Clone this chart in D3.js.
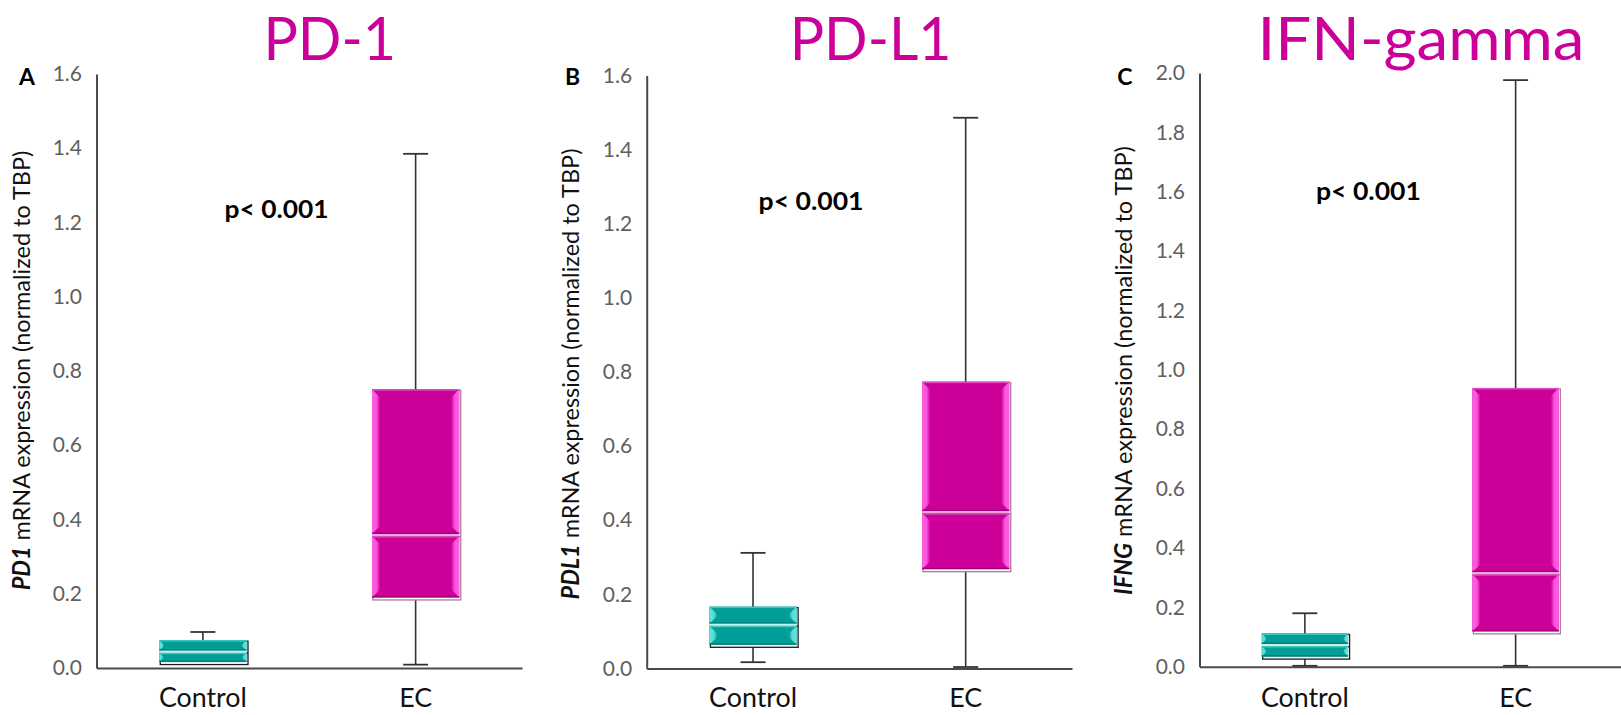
<!DOCTYPE html>
<html>
<head>
<meta charset="utf-8">
<script src="https://cdn.jsdelivr.net/npm/d3@7"></script>
<style>
  body { margin: 0; background: #fff; }
  svg { display: block; }
</style>
</head>
<body>
<svg id="chart" width="1621" height="715"></svg>
<script>
// ---- data -------------------------------------------------------------
const panelLetters = ["A", "B", "C"];
const panelTitles = ["PD-1", "PD-L1", "IFN-gamma"];
const geneNames = ["PD1", "PDL1", "IFNG"];
const categories = ["Control", "EC"];
const yMaxima = [1.6, 1.6, 2.0];
const yTickStep = 0.2;
// five-number summaries per panel: [min, q1, median, q3, max]
const controlStats = [
  [0.012, 0.016, 0.044, 0.075, 0.097],
  [0.017, 0.064, 0.118, 0.167, 0.312],
  [0.003, 0.034, 0.073, 0.112, 0.180]
];
const ecStats = [
  [0.009, 0.190, 0.358, 0.751, 1.385],
  [0.004, 0.268, 0.422, 0.774, 1.486],
  [0.003, 0.119, 0.315, 0.939, 1.976]
];
const pValueLabels = ["p< 0.001", "p< 0.001", "p< 0.001"];

// ---- layout -----------------------------------------------------------
const frames = [
  { left: 96.5,   right: 522,  bottom: 668,   top: 74,   letterX: 27,     yTitleX: 23,     yTitleY: 370.5, yTitleLen: 440,
    titleX: 329.7,  titleW: 132.6, pX: 276.5,  pY: 218,   pW: 104 },
  { left: 646.7,  right: 1072, bottom: 668.5, top: 75.5, letterX: 572.7,  yTitleX: 572,    yTitleY: 374,   yTitleLen: 451,
    titleX: 870.6,  titleW: 162,   pX: 811,    pY: 209.5, pW: 105 },
  { left: 1199.5, right: 1621, bottom: 666.7, top: 73,   letterX: 1124.8, yTitleX: 1124.5, yTitleY: 370.5, yTitleLen: 449,
    titleX: 1421,   titleW: 327,   pX: 1368.4, pY: 200,   pW: 105 }
];
const xLabelBaseline = 707.5;

const palettes = {
  Control: { key: "teal", base: "#009e96", light: "#63e3dc", topEdge: "#3fc7c0", bottomEdge: "#00807a",
             median: "#c4f1ee", outline: "#1a1a1a" },
  EC:      { key: "mag",  base: "#cc0099", light: "#ff5fe2", topEdge: "#e04cc0", bottomEdge: "#a5007c",
             median: "#e9a9d9", outline: "#b07aa0" }
};

const FONT = "Lato, 'Open Sans', 'DejaVu Sans', sans-serif";
const svg = d3.select("#chart");
const defs = svg.append("defs");

// bevel gradients for each palette
Object.values(palettes).forEach(p => {
  const l = defs.append("linearGradient").attr("id", p.key + "-left")
    .attr("x1", 0).attr("x2", 1).attr("y1", 0).attr("y2", 0);
  l.append("stop").attr("offset", 0).attr("stop-color", p.light);
  l.append("stop").attr("offset", 0.55).attr("stop-color", p.light).attr("stop-opacity", 0.9);
  l.append("stop").attr("offset", 1).attr("stop-color", p.base);
  const r = defs.append("linearGradient").attr("id", p.key + "-right")
    .attr("x1", 0).attr("x2", 1).attr("y1", 0).attr("y2", 0);
  r.append("stop").attr("offset", 0).attr("stop-color", p.base);
  r.append("stop").attr("offset", 0.45).attr("stop-color", p.light).attr("stop-opacity", 0.9);
  r.append("stop").attr("offset", 1).attr("stop-color", p.light);
});

// one bevelled block (upper or lower half of a box)
function bevelBlock(g, x0, x1, yTop, yBot, p) {
  const h = yBot - yTop;
  if (h <= 0) return;
  const b = Math.min(8, h / 2);
  g.append("rect").attr("x", x0).attr("y", yTop).attr("width", x1 - x0).attr("height", h)
    .attr("fill", p.base);
  g.append("polygon")
    .attr("points", [[x0, yTop], [x0 + b, yTop + b], [x0 + b, yBot - b], [x0, yBot]].join(" "))
    .attr("fill", `url(#${p.key}-left)`);
  g.append("polygon")
    .attr("points", [[x1, yTop], [x1 - b, yTop + b], [x1 - b, yBot - b], [x1, yBot]].join(" "))
    .attr("fill", `url(#${p.key}-right)`);
  g.append("rect").attr("x", x0).attr("y", yTop).attr("width", x1 - x0).attr("height", Math.min(1.5, h / 3))
    .attr("fill", p.topEdge);
  g.append("rect").attr("x", x0).attr("y", yBot - Math.min(1.5, h / 3)).attr("width", x1 - x0)
    .attr("height", Math.min(1.5, h / 3)).attr("fill", p.bottomEdge);
}

// stretch a text element horizontally so its width equals `target`
function widthScale(sel, target) {
  const w = sel.node().getBBox().width;
  return w > 0 ? target / w : 1;
}

frames.forEach((f, i) => {
  const g = svg.append("g");

  const y = d3.scaleLinear().domain([0, yMaxima[i]]).range([f.bottom, f.top]);
  const x = d3.scaleBand().domain(categories).range([f.left, f.right]).paddingInner(0).paddingOuter(0);
  const boxW = x.bandwidth() * 0.41;
  const capW = 25;

  // y axis
  const ticks = d3.range(0, yMaxima[i] + 1e-9, yTickStep);
  const yAxis = g.append("g").attr("transform", `translate(${f.left},0)`)
    .call(d3.axisLeft(y).tickValues(ticks).tickFormat(d3.format(".1f")).tickSize(0).tickPadding(14.5));
  yAxis.select(".domain").attr("stroke", "#4a4a4a").attr("stroke-width", 2);
  yAxis.selectAll("text").attr("font-family", FONT).attr("font-size", 21).attr("fill", "#5f5f5f");

  // x axis (category labels share one baseline across panels)
  const xAxis = g.append("g").attr("transform", `translate(0,${f.bottom})`)
    .call(d3.axisBottom(x).tickSize(0).tickSizeOuter(0).tickPadding(0));
  xAxis.select(".domain").attr("stroke", "#4a4a4a").attr("stroke-width", 2);
  xAxis.selectAll("text")
    .attr("y", xLabelBaseline - f.bottom).attr("dy", null)
    .attr("font-family", FONT).attr("font-size", 27).attr("fill", "#111");
  xAxis.selectAll("text").each(function () {
    const t = d3.select(this);
    const s = widthScale(t, t.text() === "Control" ? 88 : 33);
    t.attr("transform", `scale(${s},1)`);
  });

  // boxes
  const stats = [controlStats[i], ecStats[i]];
  categories.forEach((cat, ci) => {
    const [mn, q1, med, q3, mx] = stats[ci];
    const p = palettes[cat];
    const cx = x(cat) + x.bandwidth() / 2;
    const x0 = cx - boxW / 2, x1 = cx + boxW / 2;
    const bg = g.append("g");

    // whisker and caps
    bg.append("line").attr("x1", cx).attr("x2", cx).attr("y1", y(mn)).attr("y2", y(mx))
      .attr("stroke", "#333").attr("stroke-width", 1.6);
    [mn, mx].forEach(v => {
      bg.append("line").attr("x1", cx - capW / 2).attr("x2", cx + capW / 2).attr("y1", y(v)).attr("y2", y(v))
        .attr("stroke", "#333").attr("stroke-width", 1.8);
    });

    // outline frame with median, sitting slightly below-right of the filled box
    bg.append("rect").attr("x", x0 + 1).attr("y", y(q3) + 1)
      .attr("width", boxW + 0.5).attr("height", y(q1) - y(q3) + 1.5)
      .attr("fill", "#fff").attr("stroke", p.outline).attr("stroke-width", 1.3);
    bg.append("line").attr("x1", x0 + 1).attr("x2", x1 + 1.5).attr("y1", y(med) + 1.5).attr("y2", y(med) + 1.5)
      .attr("stroke", p.outline).attr("stroke-width", 1.3);

    // bevelled halves
    bevelBlock(bg, x0, x1, y(q3), y(med) - 1, p);
    bevelBlock(bg, x0, x1, y(med) + 1, y(q1), p);
    bg.append("line").attr("x1", x0).attr("x2", x1).attr("y1", y(med)).attr("y2", y(med))
      .attr("stroke", p.median).attr("stroke-width", 2);
  });

  // panel letter
  g.append("text").attr("x", f.letterX).attr("y", 76.5).attr("dy", "0.36em")
    .attr("text-anchor", "middle").attr("font-family", FONT).attr("font-weight", 700)
    .attr("font-size", 23).attr("fill", "#000").text(panelLetters[i]);

  // y-axis title (gene name italic bold)
  const yt = g.append("text").attr("text-anchor", "middle").attr("font-family", FONT)
    .attr("font-size", 24).attr("fill", "#111");
  yt.append("tspan").attr("font-style", "italic").attr("font-weight", 700).text(geneNames[i]);
  yt.append("tspan").text(" mRNA expression (normalized to TBP)");
  const ys = widthScale(yt, f.yTitleLen);
  yt.attr("transform", `translate(${f.yTitleX + 7},${f.yTitleY}) rotate(-90) scale(${ys},1)`);

  // panel title
  const tt = g.append("text").attr("text-anchor", "middle").attr("font-family", FONT)
    .attr("font-size", 60).attr("fill", "#cc0099").text(panelTitles[i]);
  const ts = widthScale(tt, f.titleW);
  tt.attr("transform", `translate(${f.titleX},60) scale(${ts},1)`);

  // significance label
  const pt = g.append("text").attr("text-anchor", "middle").attr("font-family", FONT)
    .attr("font-weight", 700).attr("font-size", 24).attr("fill", "#000").text(pValueLabels[i]);
  const ps = widthScale(pt, f.pW);
  pt.attr("transform", `translate(${f.pX},${f.pY}) scale(${ps},1)`);
});
</script>
</body>
</html>
